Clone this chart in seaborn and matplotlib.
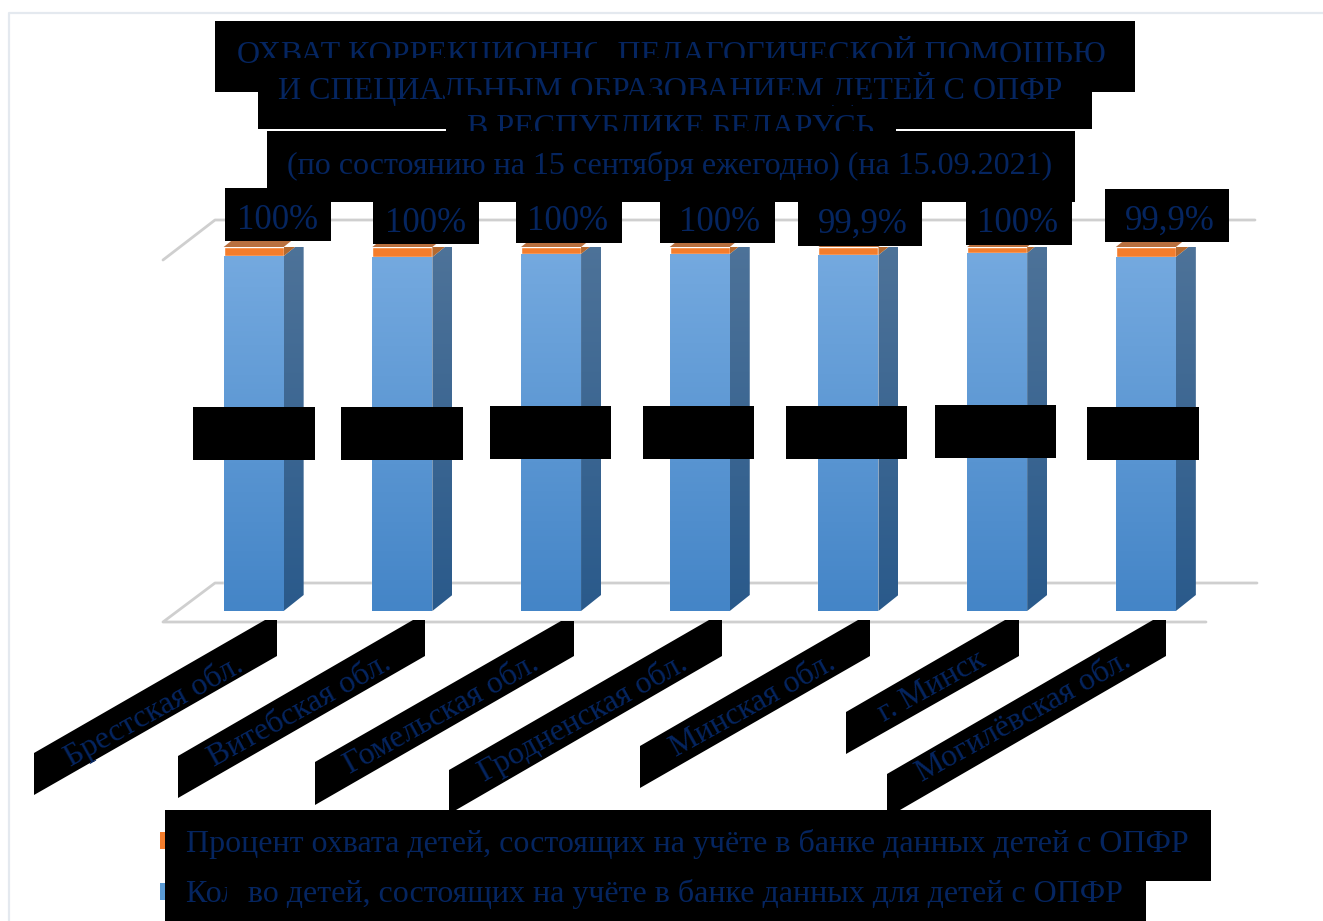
import numpy as np
import pandas as pd
import matplotlib
matplotlib.use("Agg")
import matplotlib.pyplot as plt
from matplotlib.patches import Rectangle, Polygon
import seaborn as sns

regions = ["Брестская обл.", "Витебская обл.", "Гомельская обл.", "Гродненская обл.",
           "Минская обл.", "г. Минск", "Могилёвская обл."]
count_share = [97.5, 97.25, 98.1, 98.1, 97.8, 98.35, 97.25]
percent_share = [2.5, 2.75, 1.9, 1.9, 2.2, 1.65, 2.75]
percent_labels = ["100%", "100%", "100%", "100%", "99,9%", "100%", "99,9%"]
series_names = ["Процент охвата детей, состоящих на учёте в банке данных детей с ОПФР",
                "Кол-во детей, состоящих на учёте в банке данных для детей с ОПФР"]
title_lines = ["ОХВАТ КОРРЕКЦИОННО-ПЕДАГОГИЧЕСКОЙ ПОМОЩЬЮ",
               "И СПЕЦИАЛЬНЫМ ОБРАЗОВАНИЕМ ДЕТЕЙ С ОПФР",
               "В РЕСПУБЛИКЕ БЕЛАРУСЬ",
               "(по состоянию на 15 сентября ежегодно) (на 15.09.2021)"]

sns.set_theme(style="white")
plt.rcParams["font.family"] = ["Liberation Serif", "DejaVu Serif"]

W, H = 1323, 921
INK = "#052560"
fig = plt.figure(figsize=(W / 100, H / 100), dpi=100, facecolor="white")


def px_axes(z):
    a = fig.add_axes([0, 0, 1, 1], zorder=z)
    a.set_xlim(0, W)
    a.set_ylim(H, 0)
    a.axis("off")
    a.patch.set_alpha(0)
    return a


bg = px_axes(0)
# page frame
bg.plot([9, 9, W], [H, 13, 13], color="#e4e9ef", lw=1.6)
# walls and floor of the 3D frame
wall = dict(color="#cfcfcf", lw=2.0, solid_capstyle="round", solid_joinstyle="round")
bg.plot([163, 215, 1255], [260, 220, 220], **wall)
bg.plot([1206, 163, 215, 1257], [622, 622, 583, 583], **wall)

# bars
ax = fig.add_axes([179.3 / W, (H - 611) / H, 1040.9 / W, 364 / H], zorder=1)
ax.patch.set_alpha(0)
df = pd.DataFrame({"region": regions, "count": count_share, "percent": percent_share})
bar_w = 60 / 148.7
sns.barplot(data=df, x="region", y="count", color="#5b9bd5", saturation=1, width=bar_w, ax=ax)
n_blue = len(ax.patches)
sns.barplot(data=df, x="region", y="percent", bottom=df["count"], color="#f47d2c",
            saturation=1, width=bar_w, ax=ax)
ax.set_xlim(-0.5, 6.5)
ax.set_ylim(0, 100)
ax.axis("off")

dx, dy = 20 / 148.7, 16 / 3.64


def gradient(a, verts_or_patch, top, bottom, extent, z):
    c0 = np.array(matplotlib.colors.to_rgb(top))
    c1 = np.array(matplotlib.colors.to_rgb(bottom))
    t = np.linspace(0, 1, 128)[:, None, None]
    img = (c0 * (1 - t) + c1 * t)
    im = a.imshow(img, extent=extent, origin="upper", aspect="auto", zorder=z)
    im.set_clip_path(verts_or_patch)


for i, p in enumerate(list(ax.patches)):
    x0, y0, w, h = p.get_x(), p.get_y(), p.get_width(), p.get_height()
    x1, y1 = x0 + w, y0 + h
    side = Polygon([(x1, y0), (x1 + dx, y0 + dy), (x1 + dx, y1 + dy), (x1, y1)],
                   closed=True, transform=ax.transData, fc="none", ec="none", clip_on=False)
    ax.add_patch(side)
    if i < n_blue:
        p.set_zorder(2)
        gradient(ax, p, "#74a9df", "#4485c7", [x0, x1, y0, y1], 2.1)
        gradient(ax, side, "#4e7399", "#2a5a8b", [x1, x1 + dx, y0, y1 + dy], 2)
    else:
        p.set_zorder(2)
        gradient(ax, side, "#b4692f", "#b4692f", [x1, x1 + dx, y0, y1 + dy], 2)
        top = Polygon([(x0, y1), (x1, y1), (x1 + dx, y1 + dy), (x0 + dx, y1 + dy)],
                      closed=True, fc="#b9703f", ec="none", clip_on=False, zorder=2)
        ax.add_patch(top)
ax.set_xlim(-0.5, 6.5)
ax.set_ylim(0, 100)
for im in ax.images:
    im.set_clip_on(True)

fg = px_axes(2)


def box(x0, y0, x1, y1, z=3, c="black"):
    fg.add_patch(Rectangle((x0, y0), x1 - x0, y1 - y0, fc=c, ec="none", zorder=z))


def label(x, y, s, size, ha="center", z=4, **kw):
    return fg.text(x, y, s, fontsize=size, color=INK, ha=ha, va="baseline", zorder=z, **kw)


# title blocks
box(215, 21, 1135, 92)
box(258, 92, 1092, 129)
box(446, 129, 896, 131)
label(671, 63, title_lines[0], 23)
label(670, 99, title_lines[1], 23)
label(671, 136, title_lines[2], 23)
box(257, 58, 1000, 72, z=5)
box(1000, 62, 1135, 72, z=5)
box(597, 30, 618, 72, z=5)
box(445, 95, 862, 105, z=5)
box(267, 131, 1075, 202, z=6)
label(670, 174, title_lines[3], 23, z=7)

# percentage labels
pct_boxes = [(225, 188, 331, 241), (373, 200, 479, 244), (516, 200, 622, 243), (660, 200, 775, 243),
             (798, 200, 922, 246), (966, 200, 1072, 245), (1105, 189, 1229, 242)]
pct_x = [278, 426, 568, 720, 863, 1018, 1170]
pct_base = [229, 232, 230, 231, 233, 232, 230]
for b, s, x, y in zip(pct_boxes, percent_labels, pct_x, pct_base):
    box(*b)
    label(x, y, s, 25)

# covered value labels
for b in [(193, 407, 315, 460), (341, 407, 463, 460), (490, 406, 611, 459), (643, 406, 754, 459),
          (786, 406, 907, 459), (935, 405, 1056, 458), (1087, 407, 1199, 460)]:
    box(*b)

# rotated category labels
polys = [[(34, 753), (265, 620), (277, 620), (277, 656), (34, 795)],
         [(178, 756), (413, 620), (425, 620), (425, 656), (178, 798)],
         [(315, 762), (561, 621), (574, 621), (574, 656), (315, 805)],
         [(449, 770), (709, 620), (722, 620), (722, 656), (456, 810), (449, 810)],
         [(640, 746), (858, 620), (870, 620), (870, 656), (640, 788)],
         [(846, 712), (1005, 620), (1019, 620), (1019, 656), (846, 754)],
         [(887, 774), (1153, 620), (1166, 620), (1166, 656), (900, 810), (887, 810)]]
lab_x = [245, 393, 541, 689, 837, 987, 1133]
lab_y = [670, 668, 668, 668, 668, 665, 665]
for poly, s, x, y in zip(polys, regions, lab_x, lab_y):
    fg.add_patch(Polygon(poly, closed=True, fc="black", ec="none", zorder=3))
    label(x, y, s, 23, ha="right", rotation=29, rotation_mode="anchor")

# legend
box(160, 832, 166, 849, c="#f47d2c", z=2)
box(160, 883, 166, 900, c="#5b9bd5", z=2)
box(165, 810, 1211, 881)
box(165, 881, 1146, H)
label(186, 852, series_names[0], 23, ha="left")
label(186, 902, series_names[1], 23, ha="left")
box(227, 880, 248, 912, z=5)

fig.savefig("out.png", dpi=100, facecolor="white")
